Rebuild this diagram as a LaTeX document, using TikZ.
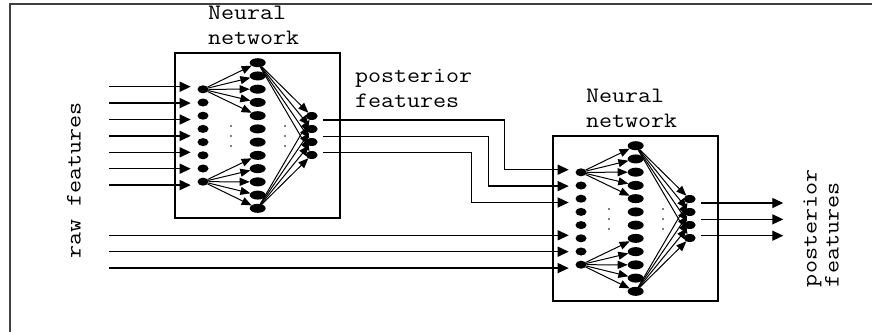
\documentclass[tikz,border=0pt]{standalone}
\usepackage{fontspec}
\newfontfamily\labelfont{Latin Modern Mono}[FakeStretch=1.15]
\usetikzlibrary{shapes.geometric,arrows.meta}
\begin{document}
\begin{tikzpicture}[x=1pt,y=-1pt,
  every node/.style={inner sep=0pt,outer sep=0pt},
  innode/.style={ellipse,fill=black,minimum width=11pt,minimum height=8pt},
  hidnode/.style={ellipse,fill=black,minimum width=16pt,minimum height=9pt},
  outnode/.style={ellipse,fill=black,minimum width=12pt,minimum height=8pt},
  netbox/.style={draw,line width=1.3pt,minimum width=165pt,minimum height=165pt},
  feed/.style={line width=1.3pt,-{Triangle[length=11pt,width=10pt]}},
  fan/.style={line width=1pt,-{Triangle[length=10pt,width=8pt]}},
  lbl/.style={font=\labelfont\fontsize{22pt}{25pt}\selectfont,align=left},
  frame/.style={line width=1.3pt,draw=black!75}
]
\useasboundingbox (0,0) rectangle (872,332);
\draw[frame] (10,332) -- (10,4) -- (872,4);

\foreach \p/\dx/\dy in {a/0/0,b/378/83}{
\begin{scope}[shift={(\dx,\dy)}]
  \node[netbox] (\p-box) at (257.5,135.5) {};
  \node[lbl,anchor=west] (\p-lbl) at (208,25.6) {Neural\\network};
  \foreach \i in {1,...,8}
    \node[innode] (\p-in-\i) at (203,{89.3+13.2*(\i-1)}) {};
  \foreach \j in {1,...,12}
    \node[hidnode] (\p-hid-\j) at (257.7,{62.7+13.24*(\j-1)}) {};
  \foreach \k in {1,...,4}
    \node[outnode] (\p-out-\k) at (311.7,{116+13*(\k-1)}) {};
  \foreach \yy in {126,136,146}{
    \fill (231,\yy) circle (0.8);
    \fill (285,\yy) circle (0.8);
  }
  \foreach \j in {1,...,5} \draw[fan] (\p-in-1) -- (\p-hid-\j);
  \foreach \j in {8,...,12} \draw[fan] (\p-in-8) -- (\p-hid-\j);
  \foreach \k in {1,...,4}{
    \draw[fan] (\p-hid-1) -- (\p-out-\k);
    \draw[fan] (\p-hid-12) -- (\p-out-\k);
  }
  \foreach \i in {1,...,7}
    \coordinate (\p-tip-\i) at (190.7,{86.7+16.4*(\i-1)});
  \foreach \k in {1,...,3}
    \coordinate (\p-os-\k) at (323.3,{120+16.35*(\k-1)});
\end{scope}
}

% raw features into first network
\foreach \i in {1,...,7}{
  \coordinate (raw-\i) at (109,{86.7+16.4*(\i-1)});
  \draw[feed] (raw-\i) -- (a-tip-\i);
}
% raw features into second network
\foreach \i/\t in {1/5,2/6,3/7}{
  \coordinate (rawlow-\i) at (109,{86.7+16.4*(\t-1)+83});
  \draw[feed] (rawlow-\i) -- (b-tip-\t);
}
% posterior features from first to second network
\foreach \k/\bx in {1/504.3,2/488.3,3/471.7}{
  \coordinate (bend-\k) at (\bx,{120+16.35*(\k-1)});
  \draw[feed] (a-os-\k) -- (bend-\k) |- (b-tip-\k);
}
% outputs of second network
\foreach \k in {1,...,3}{
  \coordinate (post-\k) at (783.3,{120+16.35*(\k-1)+83});
  \draw[feed] (b-os-\k) -- (post-\k);
}

\node[lbl,anchor=west] (postlbl) at (355,88.7) {posterior\\features};
\node[lbl,rotate=90] (rawlbl) at (74,180.5) {raw features};
\node[lbl,font=\labelfont\fontsize{22pt}{22pt}\selectfont,rotate=90,anchor=west] (postlbl2) at (821,287) {posterior\\features};
\end{tikzpicture}
\end{document}
